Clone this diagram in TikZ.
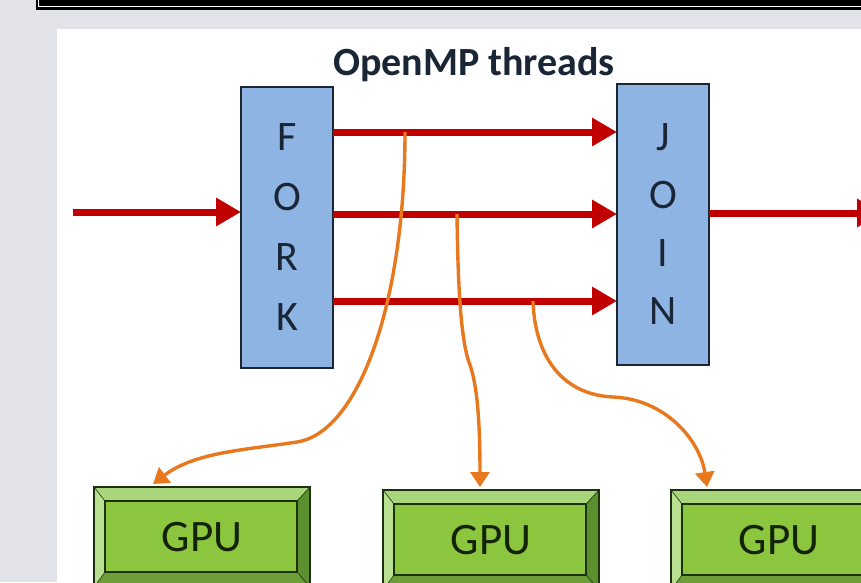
\documentclass[tikz,border=0pt]{standalone}
\usepackage{fontspec}
\setmainfont{Carlito}
\usetikzlibrary{arrows.meta,calc}
\definecolor{bggray}{HTML}{E2E3E8}
\definecolor{tblue}{HTML}{8EB4E3}
\definecolor{bborder}{HTML}{1C2633}
\definecolor{ltext}{HTML}{1A2636}
\definecolor{tred}{HTML}{C00000}
\definecolor{torange}{HTML}{E8781E}
\definecolor{gface}{HTML}{8CC63F}
\definecolor{gtopc}{HTML}{A9D67A}
\definecolor{gleftc}{HTML}{B8E090}
\definecolor{grightc}{HTML}{5C8F2E}
\definecolor{gbottomc}{HTML}{6E9E38}
\definecolor{gborder}{HTML}{1B3110}
\definecolor{gtext}{HTML}{142208}
\newcommand{\bevelfaces}[1]{%
  \coordinate (#1a) at ($(#1.north west)+(11,14)$);
  \coordinate (#1b) at ($(#1.north east)+(-13,14)$);
  \coordinate (#1c) at ($(#1.south east)+(-13,-15)$);
  \coordinate (#1d) at ($(#1.south west)+(11,-15)$);
  \fill[gtopc] (#1.north west) -- (#1.north east) -- (#1b) -- (#1a) -- cycle;
  \fill[grightc] (#1.north east) -- (#1.south east) -- (#1c) -- (#1b) -- cycle;
  \fill[gbottomc] (#1.south east) -- (#1.south west) -- (#1d) -- (#1c) -- cycle;
  \fill[gleftc] (#1.south west) -- (#1.north west) -- (#1a) -- (#1d) -- cycle;
  \draw[draw=gborder, line width=1.4pt] (#1a) rectangle (#1c);
  \draw[draw=gborder, line width=0.6pt] (#1.north west) -- (#1a) (#1.north east) -- (#1b) (#1.south east) -- (#1c) (#1.south west) -- (#1d);
  \draw[draw=gborder, line width=1.6pt] (#1.north west) rectangle (#1.south east);
}
\begin{document}
\begin{tikzpicture}[x=1pt,y=-1pt,
  redarrow/.style={draw=tred, line width=7pt, -{Triangle[length=25pt,width=27pt]}},
  orangearrow/.style={draw=torange, line width=3.4pt, -{Triangle[length=15pt,width=19pt]}},
  lettbox/.style={draw=bborder, line width=1.5pt, fill=tblue, minimum width=92pt, minimum height=281pt, inner sep=0pt, outer sep=0pt, align=center, text=ltext},
  gpubox/.style={draw=gborder, line width=1.6pt, fill=gface, minimum width=216pt, minimum height=100pt, anchor=north west, inner sep=0pt, outer sep=0pt, font=\fontsize{45}{50}\selectfont, text=gtext},
  titletext/.style={font=\bfseries\fontsize{40}{42}\selectfont, text=ltext}]
\useasboundingbox (0,0) rectangle (861,582);
\clip (0,0) rectangle (861,582);
% background
\fill[bggray] (0,0) rectangle (861,582);
\fill[white] (57,29) rectangle (861,582);
% top bar
\fill[black] (35.5,-5) rectangle (870,9.5);
\draw[white, line width=1.1pt] (38.3,-5) -- (38.3,6.2) -- (870,6.2);
% title
\node[titletext] (title) at (474,65) {OpenMP threads};
% fork / join
\node[lettbox, font=\fontsize{42}{60}\selectfont] (fork) at (287,227.5) {F\\O\\R\\K};
\node[lettbox, font=\fontsize{42}{58}\selectfont] (join) at (663,224.5) {J\\O\\I\\N};
% levels
\coordinate (y1) at (0,132);
\coordinate (y2) at (0,214);
\coordinate (y3) at (0,301);
\coordinate (in) at (73,212);
\coordinate (out) at (882,213);
% red arrows
\draw[redarrow] (in) -- (in -| fork.west);
\draw[redarrow] (fork.east |- y1) -- (join.west |- y1);
\draw[redarrow] (fork.east |- y2) -- (join.west |- y2);
\draw[redarrow] (fork.east |- y3) -- (join.west |- y3);
\draw[redarrow] (join.east |- out) -- (out);
% GPUs
\node[gpubox] (g1) at (94,487) {GPU};
\bevelfaces{g1}
\node[gpubox] (g2) at (383,490) {GPU};
\bevelfaces{g2}
\node[gpubox] (g3) at (671,490) {GPU};
\bevelfaces{g3}
% orange connectors
\coordinate (c1) at (405,132);
\coordinate (c2) at (457,214);
\coordinate (c3) at (533,301);
\draw[orangearrow] (c1) .. controls (405,300) and (360,432) .. (297,442)
  .. controls (245,450) and (195,452) .. ($(g1.north west)+(59,-3)$);
\draw[orangearrow] (c2) .. controls (458,300) and (462,345) .. (470,365)
  .. controls (477,385) and (480,420) .. ($(g2.north west)+(97,-3)$);
\draw[orangearrow] (c3) .. controls (535,360) and (565,395) .. (613,397)
  .. controls (665,399) and (700,440) .. ($(g3.north west)+(36,-3)$);
\end{tikzpicture}
\end{document}
